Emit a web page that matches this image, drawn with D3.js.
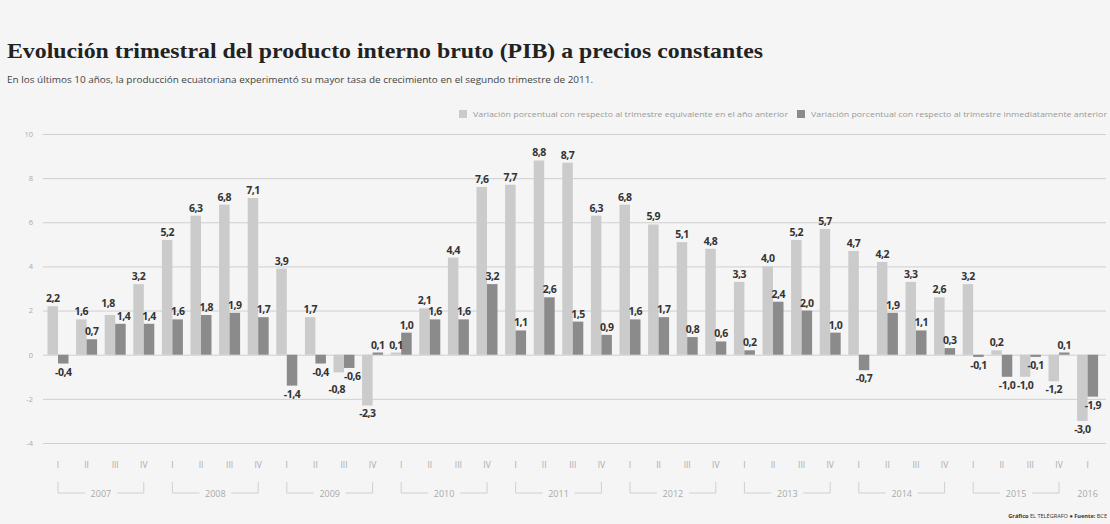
<!DOCTYPE html>
<html>
<head>
<meta charset="utf-8">
<script src="https://cdn.jsdelivr.net/npm/d3@7"></script>
<style>
  body { margin: 0; background: #f5f5f5; }
  svg { display: block; }
</style>
</head>
<body>
<svg id="chart" width="1110" height="524"></svg>
<script>
const years = ["2007", "2008", "2009", "2010", "2011", "2012", "2013", "2014", "2015", "2016"];
const quarterNames = ["I", "II", "III", "IV"];
// Variación porcentual con respecto al trimestre equivalente en el año anterior
const yoyValues = [
  2.2, 1.6, 1.8, 3.2,
  5.2, 6.3, 6.8, 7.1,
  3.9, 1.7, -0.8, -2.3,
  0.1, 2.1, 4.4, 7.6,
  7.7, 8.8, 8.7, 6.3,
  6.8, 5.9, 5.1, 4.8,
  3.3, 4.0, 5.2, 5.7,
  4.7, 4.2, 3.3, 2.6,
  3.2, 0.2, -1.0, -1.2,
  -3.0
];
// Variación porcentual con respecto al trimestre inmediatamente anterior
const qoqValues = [
  -0.4, 0.7, 1.4, 1.4,
  1.6, 1.8, 1.9, 1.7,
  -1.4, -0.4, -0.6, 0.1,
  1.0, 1.6, 1.6, 3.2,
  1.1, 2.6, 1.5, 0.9,
  1.6, 1.7, 0.8, 0.6,
  0.2, 2.4, 2.0, 1.0,
  -0.7, 1.9, 1.1, 0.3,
  -0.1, -1.0, -0.1, 0.1,
  -1.9
];
const yTicks = [-4, -2, 0, 2, 4, 6, 8, 10];
const seriesKeys = ["yoy", "qoq"];
const seriesLabels = [
  "Variación porcentual con respecto al trimestre equivalente en el año anterior",
  "Variación porcentual con respecto al trimestre inmediatamente anterior"
];
const seriesColors = ["#cbcbcb", "#8b8b8b"];

// one entry per quarter
let quarters = [];
years.forEach(yr => {
  quarterNames.forEach(q => {
    if (quarters.length < yoyValues.length) {
      quarters.push({ key: yr + "-" + q, year: yr, q: q });
    }
  });
});
quarters.forEach((d, i) => {
  d.yoy = yoyValues[i];
  d.qoq = qoqValues[i];
});

let svg = d3.select("#chart");
const fmt = v => d3.format(".1f")(v).replace(".", ",").replace("\u2212", "-");

// title + subtitle
svg.append("text")
   .attr("x", 7)
   .attr("y", 58)
   .attr("textLength", 756)
   .attr("lengthAdjust", "spacingAndGlyphs")
   .style("font", "bold 21px 'Liberation Serif', serif")
   .style("fill", "#222")
   .text("Evolución trimestral del producto interno bruto (PIB) a precios constantes");

svg.append("text")
   .attr("x", 7)
   .attr("y", 83)
   .attr("textLength", 586)
   .attr("lengthAdjust", "spacingAndGlyphs")
   .style("font", "9.5px 'Open Sans', sans-serif")
   .style("fill", "#444")
   .text("En los últimos 10 años, la producción ecuatoriana experimentó su mayor tasa de crecimiento en el segundo trimestre de 2011.");

// legend
const legendPos = [{ x: 459, w: 315 }, { x: 797, w: 296 }];
let legend = svg.selectAll(".legend")
  .data(seriesKeys)
  .enter().append("g")
  .attr("class", "legend")
  .attr("transform", (d, i) => "translate(" + legendPos[i].x + ",110)");
legend.append("rect")
  .attr("width", 8)
  .attr("height", 8)
  .style("fill", (d, i) => seriesColors[i]);
legend.append("text")
  .attr("x", 14)
  .attr("y", 7)
  .attr("textLength", (d, i) => legendPos[i].w)
  .attr("lengthAdjust", "spacingAndGlyphs")
  .style("font", "8px 'Open Sans', sans-serif")
  .style("fill", "#9a9a9a")
  .text((d, i) => seriesLabels[i]);

// scales
let x0 = d3.scaleBand()
  .domain(quarters.map(d => d.key))
  .range([43.7, 1101.9])
  .paddingInner(0.266)
  .paddingOuter(0.133);
let x1 = d3.scaleBand()
  .domain(seriesKeys)
  .range([0, x0.bandwidth()]);
let y = d3.scaleLinear().domain([-4, 10]).range([443, 134]);
let color = d3.scaleOrdinal().domain(seriesKeys).range(seriesColors);

// grid + y labels
let yAxis = svg.append("g")
  .attr("class", "axis axis--y")
  .attr("transform", "translate(43,0)")
  .call(d3.axisLeft(y)
    .tickValues(yTicks)
    .tickSize(-(1106 - 43))
    .tickPadding(10)
    .tickFormat(d => String(d).replace("\u2212", "-")));
yAxis.select(".domain").remove();
yAxis.selectAll("line").style("stroke", "#cfcfcf");
yAxis.selectAll("text")
  .style("font", "7.5px 'Open Sans', sans-serif")
  .style("fill", "#aaa");

// bars
let group = svg.selectAll(".quarter")
  .data(quarters)
  .enter().append("g")
  .attr("class", "quarter")
  .attr("transform", d => "translate(" + x0(d.key) + ",0)");

group.selectAll("rect")
  .data(d => seriesKeys.map(k => ({ key: k, value: d[k] })))
  .enter().append("rect")
  .attr("x", d => x1(d.key))
  .attr("width", x1.bandwidth())
  .attr("y", d => y(Math.max(0, d.value)))
  .attr("height", d => Math.abs(y(d.value) - y(0)))
  .style("fill", d => color(d.key));

// value labels, pushed apart when the two labels of a quarter collide
group.each(function(d) {
  let items = seriesKeys.map(k => {
    let v = d[k];
    return {
      key: k,
      value: v,
      dx: 0,
      ty: v >= 0 ? y(v) - 4 : y(v) + 12
    };
  });
  let a = items[0], b = items[1];
  if ((a.value >= 0) === (b.value >= 0) && Math.abs(a.ty - b.ty) < 10) {
    let big = Math.abs(a.value) >= Math.abs(b.value) ? a : b;
    let small = big === a ? b : a;
    big.ty = big.value >= 0 ? small.ty - 13 : small.ty + 13;
    a.dx = -2;
    b.dx = 3;
  }
  d3.select(this).selectAll(".val")
    .data(items)
    .enter().append("text")
    .attr("class", "val")
    .attr("x", it => x1(it.key) + x1.bandwidth() / 2 + it.dx)
    .attr("y", it => it.ty)
    .attr("text-anchor", "middle")
    .style("font", "bold 10.5px 'Open Sans', sans-serif")
    .style("letter-spacing", "-0.5px")
    .style("fill", "#333")
    .text(it => fmt(it.value));
});

// quarter labels
svg.append("g")
  .selectAll("text")
  .data(quarters)
  .enter().append("text")
  .attr("x", d => x0(d.key) + x0.bandwidth() / 2)
  .attr("y", 468)
  .attr("text-anchor", "middle")
  .style("font", "8.5px 'Open Sans', sans-serif")
  .style("fill", "#aaa")
  .text(d => d.q);

// year brackets
let yearGroups = years.map(yr => {
  let qs = quarters.filter(d => d.year === yr);
  return {
    year: yr,
    x0: x0(qs[0].key) + x0.bandwidth() / 2,
    x1: x0(qs[qs.length - 1].key) + x0.bandwidth() / 2,
    full: qs.length > 1
  };
});
let yr = svg.append("g")
  .selectAll("g")
  .data(yearGroups)
  .enter().append("g");
yr.append("text")
  .attr("x", d => (d.x0 + d.x1) / 2)
  .attr("y", 496.5)
  .attr("text-anchor", "middle")
  .style("font", "9px 'Open Sans', sans-serif")
  .style("fill", "#aaa")
  .text(d => d.year);
yr.filter(d => d.full)
  .append("path")
  .attr("d", d => {
    let mid = (d.x0 + d.x1) / 2;
    return "M" + d.x0 + ",482V493H" + (mid - 16) +
           "M" + (mid + 16) + ",493H" + d.x1 + "V482";
  })
  .style("fill", "none")
  .style("stroke", "#cfcfcf")
  .style("stroke-width", 1);

// footer
let foot = svg.append("text")
  .attr("x", 1107)
  .attr("y", 518)
  .attr("text-anchor", "end")
  .style("font", "5.6px 'Open Sans', sans-serif")
  .style("fill", "#333");
foot.append("tspan").style("font-weight", "bold").text("Gráfico ");
foot.append("tspan").text("EL TELÉGRAFO ");
foot.append("tspan").text("● ");
foot.append("tspan").style("font-weight", "bold").text("Fuente: ");
foot.append("tspan").text("BCE");
</script>
</body>
</html>
